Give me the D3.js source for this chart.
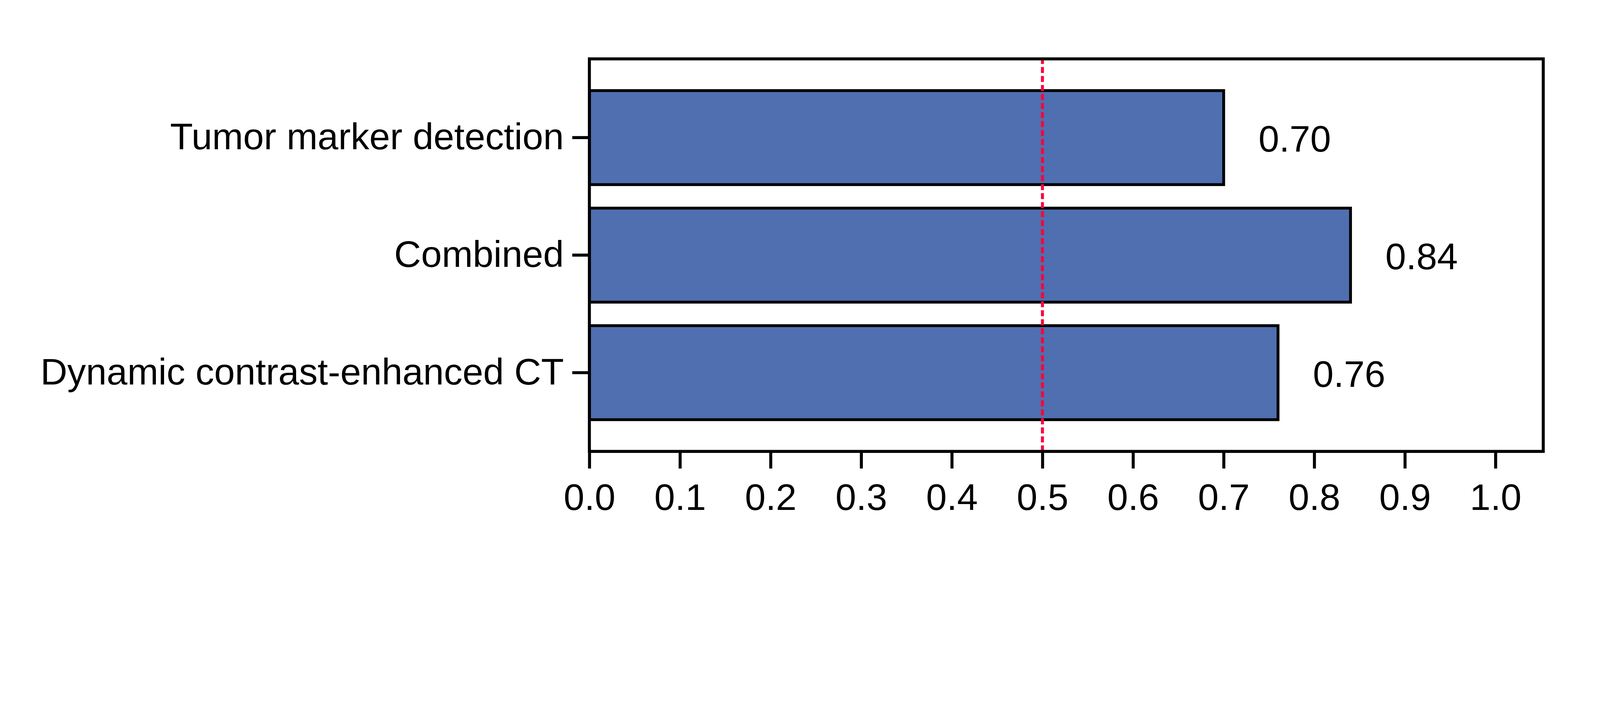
<!DOCTYPE html>
<html>
<head>
<meta charset="utf-8">
<script src="https://cdn.jsdelivr.net/npm/d3@7"></script>
<style>
  html, body { margin: 0; padding: 0; background: #fff; overflow: hidden; }
  svg { display: block; width: 100vw; height: 100vh; }
  text { font-family: "Liberation Sans", Arial, sans-serif; }
</style>
</head>
<body>
<div id="chart-area"></div>
<script>
// data
var categories = ["Tumor marker detection", "Combined", "Dynamic contrast-enhanced CT"];
var values = [0.70, 0.84, 0.76];
var xTicks = [0, 0.1, 0.2, 0.3, 0.4, 0.5, 0.6, 0.7, 0.8, 0.9, 1.0];
var refLine = 0.5;

var width = 5329;
var height = 1794;
var plot = {left: 1963, right: 5140, top: 196, bottom: 1503};
var fontSize = 124;

// drawn in the reference's pixel space, scaled to fit the window
var svg = d3.select("#chart-area").append("svg")
            .attr("viewBox", "0 0 " + width + " " + height)
            .attr("preserveAspectRatio", "xMidYMin meet");

var x = d3.scaleLinear()
          .domain([0, 1.0527])
          .range([plot.left, plot.right]);
var y = d3.scaleBand()
          .domain(categories)
          .range([plot.top, plot.bottom])
          .paddingInner(0.2)
          .paddingOuter(0.27);

// bars
svg.append("g").selectAll("rect")
    .data(categories)
    .enter().append("rect")
    .attr("x", x(0))
    .attr("y", (d) => { return y(d); })
    .attr("width", (d, i) => { return x(values[i]) - x(0); })
    .attr("height", y.bandwidth())
    .attr("fill", "#4f6fb0")
    .attr("stroke", "#000")
    .attr("stroke-width", 9.5);

// value labels
svg.append("g").selectAll("text")
    .data(categories)
    .enter().append("text")
    .attr("x", (d, i) => { return x(values[i]) + 116; })
    .attr("y", (d) => { return y(d) + y.bandwidth() / 2 + 47; })
    .attr("font-size", fontSize + "px")
    .attr("fill", "#000")
    .text((d, i) => { return values[i].toFixed(2); });

// reference line at 0.5
svg.append("line")
    .attr("x1", x(refLine))
    .attr("x2", x(refLine))
    .attr("y1", plot.bottom)
    .attr("y2", plot.top)
    .attr("stroke", "#f5073d")
    .attr("stroke-width", 10)
    .attr("stroke-dasharray", "20,10");

// frame
svg.append("rect")
    .attr("x", plot.left)
    .attr("y", plot.top)
    .attr("width", plot.right - plot.left)
    .attr("height", plot.bottom - plot.top)
    .attr("fill", "none")
    .attr("stroke", "#000")
    .attr("stroke-width", 10);

// X axis
var bottomAxis = d3.axisBottom(x)
                   .tickValues(xTicks)
                   .tickFormat(d3.format(".1f"))
                   .tickSize(57)
                   .tickSizeOuter(0);
var xg = svg.append("g")
    .attr("transform", "translate(0," + plot.bottom + ")")
    .call(bottomAxis);
xg.select(".domain").remove();
xg.selectAll("line").attr("stroke", "#000").attr("stroke-width", 10);
xg.selectAll("text")
    .attr("y", 195)
    .attr("dy", 0)
    .attr("font-size", fontSize + "px")
    .attr("font-family", "Liberation Sans, Arial, sans-serif")
    .attr("fill", "#000");

// Y axis
var leftAxis = d3.axisLeft(y)
                 .tickSize(57)
                 .tickSizeOuter(0);
var yg = svg.append("g")
    .attr("transform", "translate(" + plot.left + ",0)")
    .call(leftAxis);
yg.select(".domain").remove();
yg.selectAll("line").attr("stroke", "#000").attr("stroke-width", 10);
yg.selectAll("text")
    .attr("x", -85)
    .attr("dy", 0)
    .attr("y", 39)
    .attr("font-size", fontSize + "px")
    .attr("font-family", "Liberation Sans, Arial, sans-serif")
    .attr("fill", "#000");
</script>
</body>
</html>
